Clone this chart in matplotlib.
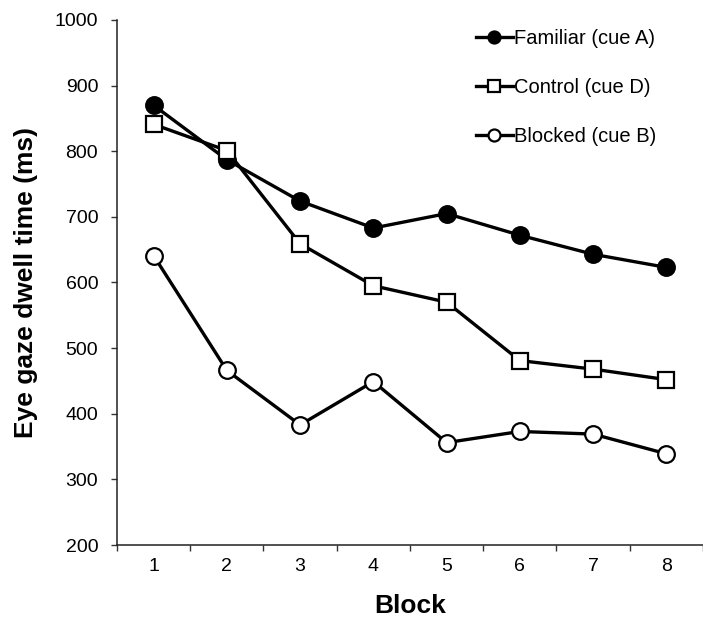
import numpy as np
import matplotlib.pyplot as plt
from matplotlib.ticker import FixedLocator, NullFormatter

plt.rcParams['font.family'] = ['Liberation Sans', 'DejaVu Sans']

# data
blocks = [1, 2, 3, 4, 5, 6, 7, 8]
familiar = [870, 787, 724, 683, 705, 672, 643, 623]
control = [841, 801, 659, 595, 570, 481, 468, 452]
blocked = [641, 466, 383, 449, 356, 373, 369, 339]
series_labels = ['Familiar (cue A)', 'Control (cue D)', 'Blocked (cue B)']


def main():
    fig = plt.figure(figsize=(7.03, 6.24), dpi=100)
    ax = fig.add_axes([0.1664, 0.1266, 0.8336, 0.8414])

    line_kw = dict(color='black', linewidth=2.4, markersize=12,
                   markeredgewidth=1.6, markeredgecolor='black')
    ax.plot(blocks, familiar, marker='o', markerfacecolor='black',
            label=series_labels[0], **line_kw)
    ax.plot(blocks, control, marker='s', markerfacecolor='white',
            label=series_labels[1], **line_kw)
    ax.plot(blocks, blocked, marker='o', markerfacecolor='white',
            label=series_labels[2], **line_kw)

    ax.set_xlim(0.5, 8.5)
    ax.set_ylim(200, 1000)
    ax.set_yticks(np.arange(200, 1001, 100))

    # ticks sit between the blocks, labels in the middle
    ax.xaxis.set_major_locator(FixedLocator(np.arange(0.5, 8.6, 1)))
    ax.xaxis.set_major_formatter(NullFormatter())
    ax.xaxis.set_minor_locator(FixedLocator(blocks))
    ax.set_xticklabels([str(b) for b in blocks], minor=True)
    ax.tick_params(axis='x', which='minor', length=0, labelsize=14, pad=9)
    ax.tick_params(axis='x', which='major', length=4, width=1, color='#333333')
    ax.tick_params(axis='y', length=4.5, width=1, labelsize=14, pad=9,
                   color='#333333')

    for side in ['top', 'right']:
        ax.spines[side].set_visible(False)
    for side in ['left', 'bottom']:
        ax.spines[side].set_linewidth(1.1)
        ax.spines[side].set_color('#222222')

    ax.set_xlabel('Block', fontsize=19, fontweight='bold', labelpad=14)
    ax.set_ylabel('Eye gaze dwell time (ms)', fontsize=19, fontweight='bold',
                  labelpad=12)

    ax.legend(loc='upper left', bbox_to_anchor=(0.612, 0.983), frameon=False,
              fontsize=14.5, markerscale=0.72, handlelength=1.85,
              handletextpad=0.05, labelspacing=1.5, borderpad=0,
              borderaxespad=0)

    fig.savefig('out.png', dpi=100)


if __name__ == '__main__':
    main()
